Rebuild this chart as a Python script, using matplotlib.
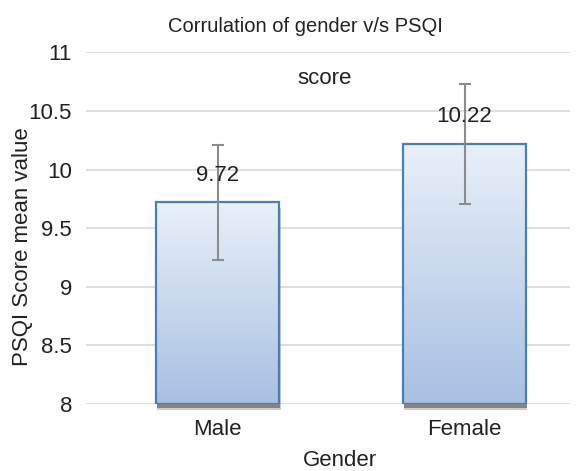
import numpy as np
import matplotlib
matplotlib.use('Agg')
import matplotlib.pyplot as plt
import matplotlib.patheffects as pe

plt.rcParams['font.family'] = ['Liberation Sans', 'DejaVu Sans']

genders = ['Male', 'Female']
means = [9.72, 10.22]
errors = [0.49, 0.51]
labels = ['9.72', '10.22']

fig = plt.figure(figsize=(5.8, 4.71), dpi=100)
ax = fig.add_axes([0.148, 0.142, 0.834, 0.747])

x = np.arange(len(genders))
w = 0.5
heights = [m - 8 for m in means]

# soft shadow under the bars
ax.bar(x, heights, bottom=8, width=w, color='none', edgecolor='none', zorder=2, clip_on=False,
       path_effects=[pe.SimplePatchShadow(offset=(0.8, -4), shadow_rgbFace='#9a9a9a', alpha=0.5),
                     pe.SimplePatchShadow(offset=(0.5, -2.5), shadow_rgbFace='#555555', alpha=0.6)])

# outline bars
bars = ax.bar(x, heights, bottom=8, width=w, color='none',
              edgecolor='#4a7ebb', linewidth=1.6, zorder=3)

# gradient fill
grad = np.linspace(0, 1, 256).reshape(-1, 1)
cmap = matplotlib.colors.LinearSegmentedColormap.from_list('g', ['#a8c0e2', '#e9f0f9'])
for b in bars:
    x0, y0 = b.get_x(), b.get_y()
    im = ax.imshow(grad, cmap=cmap, origin='lower', aspect='auto', zorder=2.5,
                   extent=[x0, x0 + b.get_width(), y0, y0 + b.get_height()])
    im.set_clip_path(b)

ax.errorbar(x, means, yerr=errors, fmt='none', ecolor='#8c8c8c', elinewidth=1.5,
            capsize=4, capthick=1.5, zorder=4)

for xi, m, lab in zip(x, means, labels):
    ax.annotate(lab, (xi, m), xytext=(0, 19.5), textcoords='offset points',
                ha='center', va='center', fontsize=16, color='#222222', zorder=5)

ax.set_xlim(-0.534, 1.425)
ax.set_ylim(8, 11)
ax.set_yticks(np.arange(8, 11.01, 0.5))
ax.set_yticklabels(['8', '8.5', '9', '9.5', '10', '10.5', '11'])
ax.set_xticks(x)
ax.set_xticklabels(genders)
ax.tick_params(length=0, labelsize=16, colors='#222222')
ax.tick_params(axis='x', pad=10.5)
ax.tick_params(axis='y', pad=10)
ax.yaxis.grid(True, color='#d9d9d9', linewidth=1.2)
ax.set_axisbelow(True)
for s in ax.spines.values():
    s.set_visible(False)

fig.text(0.586, 0.022, 'Gender', fontsize=16, color='#222222', ha='center', va='center')
fig.text(0.038, 0.476, 'PSQI Score mean value', rotation=90, fontsize=16,
         color='#222222', ha='center', va='center')
fig.text(0.526, 0.943, 'Corrulation of gender v/s PSQI', fontsize=14.5,
         color='#222222', ha='center', va='center')
fig.text(0.560, 0.834, 'score', fontsize=16, color='#222222', ha='center', va='center')

fig.savefig('out.png', dpi=100, facecolor='white')
